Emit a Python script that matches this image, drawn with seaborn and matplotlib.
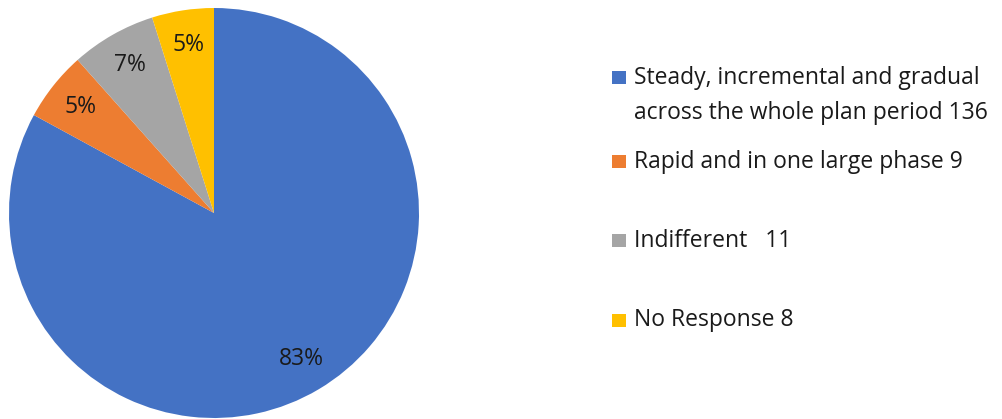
import matplotlib
matplotlib.use("Agg")
import matplotlib.pyplot as plt
import seaborn as sns
from matplotlib.patches import Rectangle

categories = ["Steady, incremental and gradual\nacross the whole plan period 136",
              "Rapid and in one large phase 9",
              "Indifferent   11",
              "No Response 8"]
counts = [136, 9, 11, 8]
pct_labels = ["83%", "5%", "7%", "5%"]
colors = ["#4472C4", "#ED7D31", "#A5A5A5", "#FFC000"]

sns.set_theme(style="white")
plt.rcParams['font.family'] = ['Open Sans', 'DejaVu Sans']

W, H = 1002, 419
fig = plt.figure(figsize=(W / 100, H / 100), dpi=100)
cx, cy, r = 214, 213, 205
ax = fig.add_axes([(cx - r) / W, (H - cy - r) / H, 2 * r / W, 2 * r / H])
wedges, texts = ax.pie(counts, colors=colors, startangle=90, counterclock=False,
                       labels=pct_labels, labeldistance=0.83,
                       textprops=dict(fontsize=16.5, color="#1a1a1a", ha="center", va="center"),
                       wedgeprops=dict(linewidth=0))
ax.set_xlim(-1, 1)
ax.set_ylim(-1, 1)
ax.set_aspect("equal")
ax.axis("off")

# legend
fs = 16.5
ys = [78, 162, 241, 320]
for lab, col, y in zip(categories, colors, ys):
    fig.patches.append(Rectangle((612 / W, (H - y - 6.5) / H), 14 / W, 13 / H,
                                 transform=fig.transFigure, facecolor=col, edgecolor="none"))
    lines = lab.split("\n")
    for i, line in enumerate(lines):
        fig.text(634 / W, (H - y - 35 * i) / H, line, fontsize=fs, color="#1a1a1a",
                 ha="left", va="center")

fig.savefig("out.png", dpi=100)
